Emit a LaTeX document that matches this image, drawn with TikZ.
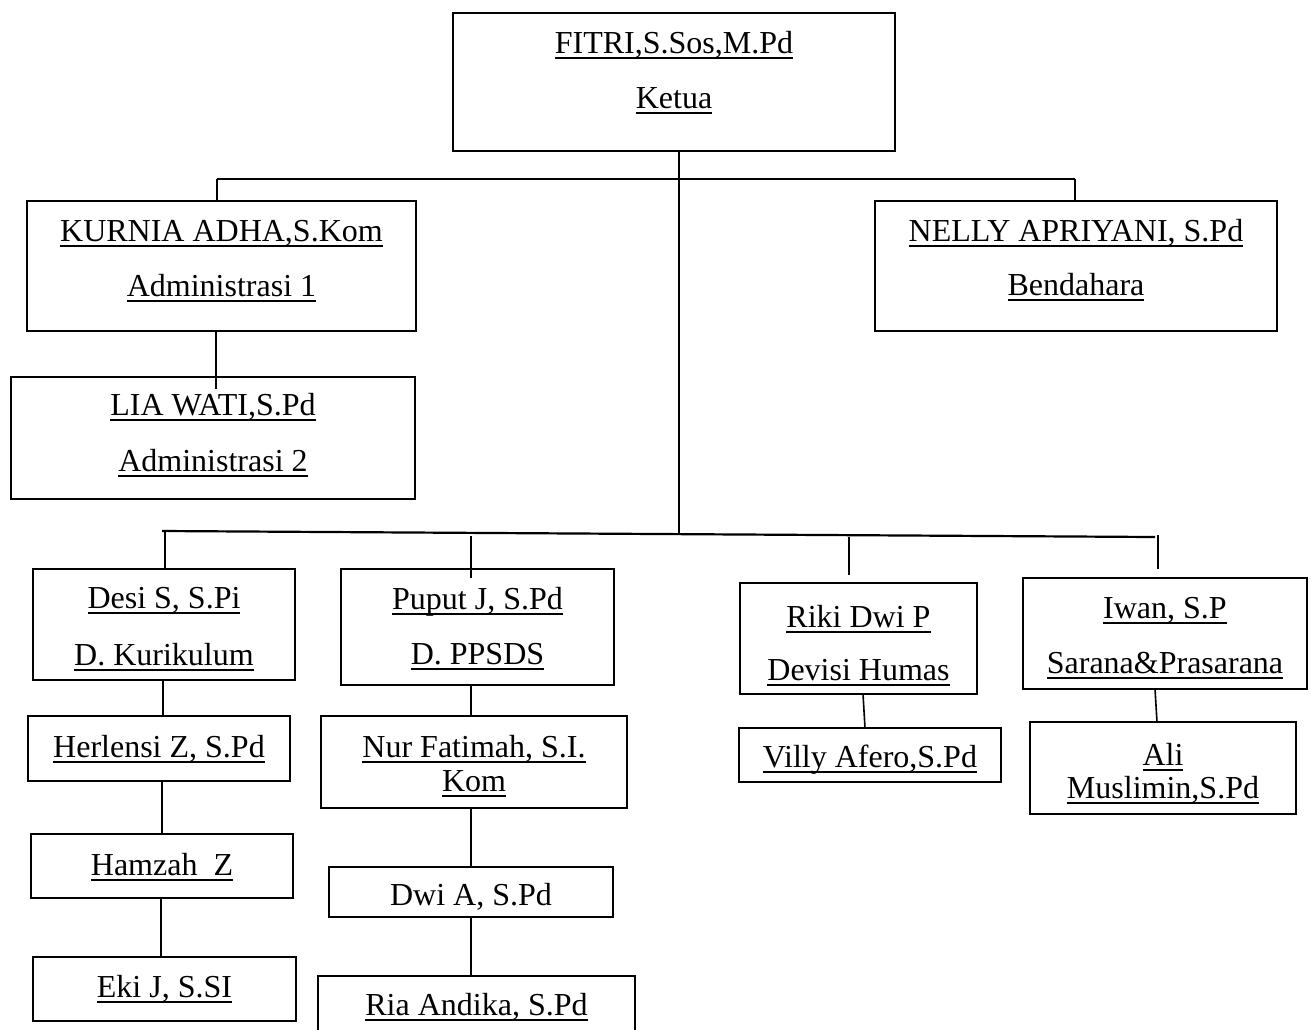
\documentclass[tikz,border=0pt]{standalone}
\usepackage{fontspec}
\setmainfont{Liberation Serif}
\newcommand{\myul}[1]{\setbox0\hbox{#1}\rlap{\rule[-5.5pt]{\wd0}{1.8pt}}\box0}
\tikzset{
  box/.style={draw, line width=1.1pt, inner sep=0pt, outer sep=0pt},
  lbl/.style={anchor=base, inner sep=0pt, font=\fontsize{32}{38}\selectfont},
  conn/.style={line width=1.6pt},
  bus/.style={line width=2.2pt},
}
\newcommand{\bx}[5]{\node[box, minimum width={#4-#2}, minimum height={#5-#3}] (#1) at ({(#2+#4)/2},{(#3+#5)/2}) {};}
\begin{document}
\begin{tikzpicture}[x=1pt,y=-1pt]
\useasboundingbox (0,0) rectangle (1316,1029);
% boxes
\bx{ketua}{453}{13}{895}{151}
\bx{kurnia}{27}{201}{416}{331}
\bx{nelly}{875}{201}{1277}{331}
\bx{lia}{11}{377}{415}{499}
\bx{desi}{33}{569}{295}{680}
\bx{herl}{28}{716}{290}{781}
\bx{hamzah}{31}{834}{293}{898}
\bx{eki}{33}{957}{296}{1021}
\bx{puput}{341}{569}{614}{685}
\bx{nur}{321}{716}{627}{808}
\bx{dwi}{329}{867}{613}{917}
\bx{ria}{318}{976}{635}{1045}
\bx{riki}{740}{583}{977}{694}
\bx{villy}{739}{728}{1001}{782}
\bx{iwan}{1023}{578}{1307}{689}
\bx{ali}{1030}{722}{1296}{814}
% texts
\node[lbl] (t1) at (674,53) {\myul{FITRI,S.Sos,M.Pd}};
\node[lbl] (t2) at (674,108) {\myul{Ketua}};
\node[lbl] (t3) at (221.5,241) {\myul{KURNIA ADHA,S.Kom}};
\node[lbl] (t4) at (221.5,296) {\myul{Administrasi 1}};
\node[lbl] (t5) at (1076,241) {\myul{NELLY APRIYANI, S.Pd}};
\node[lbl] (t6) at (1076,295) {\myul{Bendahara}};
\node[lbl] (t7) at (213,415) {\myul{LIA WATI,S.Pd}};
\node[lbl] (t8) at (213,471) {\myul{Administrasi 2}};
\node[lbl] (t9) at (164,608) {\myul{Desi S, S.Pi}};
\node[lbl] (t10) at (164,665) {\myul{D. Kurikulum}};
\node[lbl] (t11) at (159,757) {\myul{Herlensi Z, S.Pd}};
\node[lbl] (t12) at (162,875) {\myul{Hamzah\ \ Z}};
\node[lbl] (t13) at (164.5,997) {\myul{Eki J, S.SI}};
\node[lbl] (t14) at (477.5,609) {\myul{Puput J, S.Pd}};
\node[lbl] (t15) at (477.5,664) {\myul{D. PPSDS}};
\node[lbl] (t16) at (474,757) {\myul{Nur Fatimah, S.I.}};
\node[lbl] (t17) at (474,791) {\myul{Kom}};
\node[lbl] (t18) at (471,905) {Dwi A, S.Pd};
\node[lbl] (t19) at (476.5,1015) {\myul{Ria Andika, S.Pd}};
\node[lbl] (t20) at (858.5,627) {\myul{Riki Dwi P}};
\node[lbl] (t21) at (858.5,680) {\myul{Devisi Humas}};
\node[lbl] (t22) at (870,767) {\myul{Villy Afero,S.Pd}};
\node[lbl] (t23) at (1165,618) {\myul{Iwan, S.P}};
\node[lbl] (t24) at (1165,673) {\myul{Sarana\&Prasarana}};
\node[lbl] (t25) at (1163,765) {\myul{Ali}};
\node[lbl] (t26) at (1163,798) {\myul{Muslimin,S.Pd}};
% helper coordinates
\coordinate (topL) at (217,179);
\coordinate (topR) at (1075,179);
\coordinate (busL) at (162,531);
\coordinate (busR) at (1155,537);
\coordinate (kx) at (679,0);
\coordinate (kdrop) at (679,534);
\coordinate (lx) at (216,0);
\coordinate (liaIn) at (216,389);
\coordinate (dtop) at (165,531);
\coordinate (p1) at (471,536);
\coordinate (p2) at (471,578);
\coordinate (r1) at (849,537);
\coordinate (r2) at (849,575);
\coordinate (i1) at (1158,535);
\coordinate (i2) at (1158,569);
\coordinate (x163) at (163,0);
\coordinate (x162) at (162,0);
\coordinate (x161) at (161,0);
\coordinate (x471) at (471,0);
\coordinate (x863) at (863,0);
\coordinate (x865) at (865,0);
\coordinate (x1155) at (1155,0);
\coordinate (x1157) at (1157,0);
% connectors
\draw[bus] (topL) -- (topR);
\draw[bus] (busL) -- (busR);
\draw[conn] (ketua.south -| kx) -- (kdrop);
\draw[conn] (topL) -- (kurnia.north -| topL);
\draw[conn] (topR) -- (nelly.north -| topR);
\draw[conn] (kurnia.south -| lx) -- (liaIn);
\draw[conn] (dtop) -- (desi.north -| dtop);
\draw[conn] (p1) -- (p2);
\draw[conn] (r1) -- (r2);
\draw[conn] (i1) -- (i2);
\draw[conn] (desi.south -| x163) -- (herl.north -| x163);
\draw[conn] (herl.south -| x162) -- (hamzah.north -| x162);
\draw[conn] (hamzah.south -| x161) -- (eki.north -| x161);
\draw[conn] (puput.south -| x471) -- (nur.north -| x471);
\draw[conn] (nur.south -| x471) -- (dwi.north -| x471);
\draw[conn] (dwi.south -| x471) -- (ria.north -| x471);
\draw[conn] (riki.south -| x863) -- (villy.north -| x865);
\draw[conn] (iwan.south -| x1155) -- (ali.north -| x1157);
\end{tikzpicture}
\end{document}
